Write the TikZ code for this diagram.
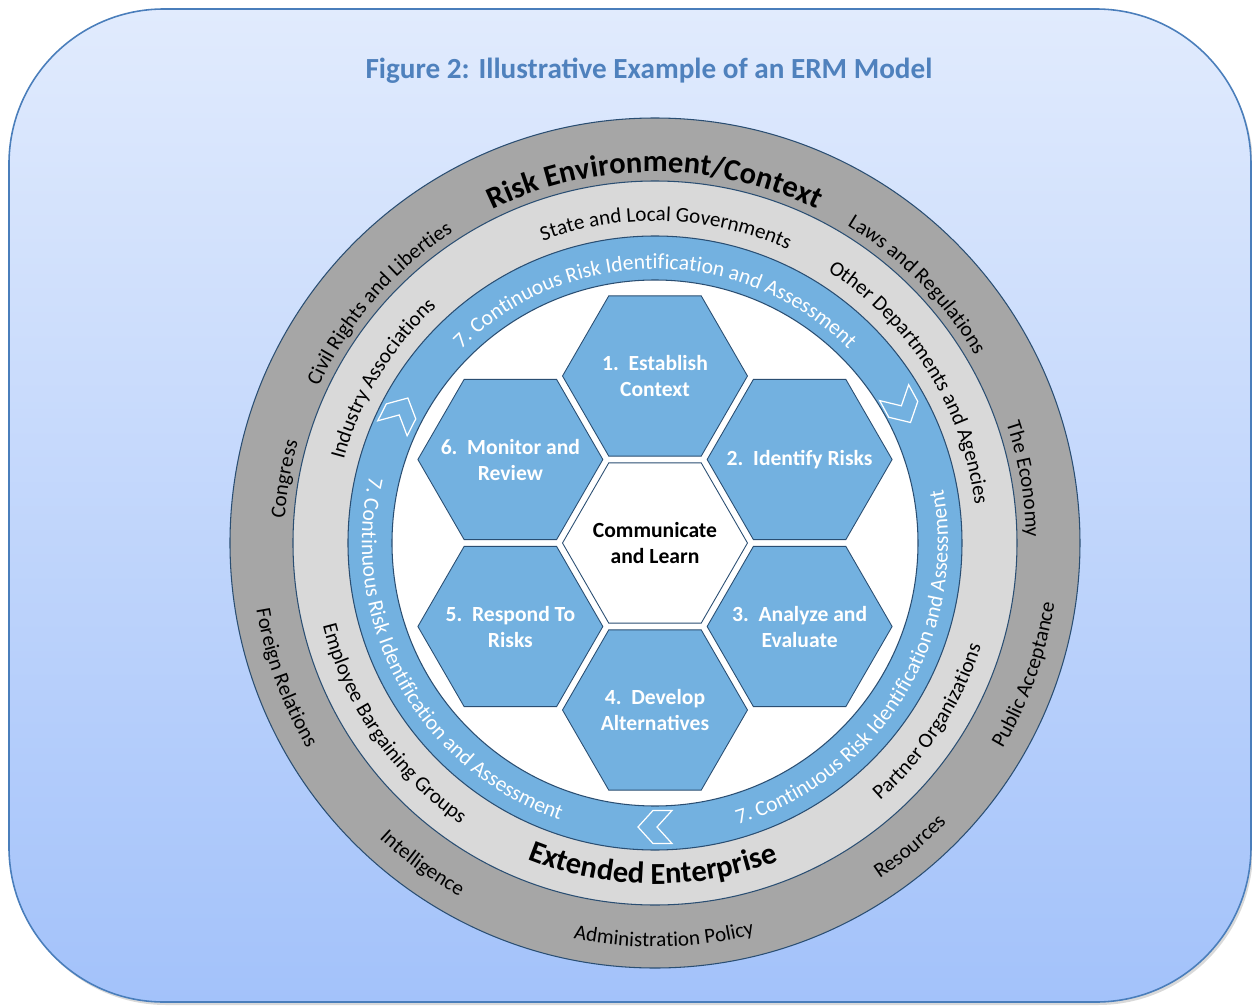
\documentclass[tikz,border=0pt]{standalone}
\usepackage{fontspec}
\setmainfont{Carlito}
\usetikzlibrary{shapes.geometric,decorations.text}

\definecolor{bgtop}{HTML}{E1EBFD}
\definecolor{bgbot}{HTML}{A3C2FA}
\definecolor{frameblue}{HTML}{4A7EBB}
\definecolor{titleblue}{HTML}{4F81BD}
\definecolor{darkring}{HTML}{A6A6A6}
\definecolor{lightring}{HTML}{D9D9D9}
\definecolor{cellblue}{HTML}{73B1E0}
\definecolor{edgeblue}{HTML}{2A4E72}

\newcommand{\bigring}{\fontsize{17.4}{20}\selectfont\bfseries}
\newcommand{\smallring}{\fontsize{12}{14}\selectfont}
\newcommand{\loopring}{\fontsize{12.3}{14}\selectfont\color{white}}

\newcommand{\ringtop}[4]{\path[decorate,decoration={text along path,text align=center,text={#4}}]
  ({#1+#3}:#2) arc[start angle={#1+#3},end angle={#1-#3},radius=#2];}
\newcommand{\ringbottom}[4]{\path[decorate,decoration={text along path,text align=center,text={#4}}]
  ({#1-#3}:#2) arc[start angle={#1-#3},end angle={#1+#3},radius=#2];}

\tikzset{
  ringedge/.style={draw=edgeblue,line width=0.6pt},
  hexcell/.style={regular polygon,regular polygon sides=6,minimum size=3.7cm,inner sep=0pt,
    fill=cellblue,draw=edgeblue,line width=0.5pt},
  hextext/.style={align=center,text=white,font=\fontsize{12.3}{14.8}\selectfont\bfseries},
  chev/.pic={\draw[white,line width=0.7pt] (-17,16.5)--(2,16.5)--(17,0)--(2,-16.5)--(-17,-16.5)--(-2,0)--cycle;}
}

\begin{document}
\begin{tikzpicture}[x=0.02cm,y=0.02cm]
\useasboundingbox (-655,-462) rectangle (597,543);
\fill[black,opacity=0.15,rounded corners=3.1cm] (-644,-462) rectangle (598,531);
\path[draw=frameblue,line width=0.9pt,top color=bgtop,bottom color=bgbot,rounded corners=3.1cm]
  (-646,-459) rectangle (596,534);
\node[text=titleblue,font=\fontsize{16.6}{19}\selectfont\bfseries] (title) at (-6,472)
  {Figure 2: Illustrative Example of an ERM Model};

\draw[ringedge,fill=darkring] (0,0) circle[radius=425];
\draw[ringedge,fill=lightring] (0,0) circle[radius=362];
\draw[ringedge,fill=cellblue] (0,0) circle[radius=307];
\draw[ringedge,fill=white] (0,0) circle[radius=263];

\ringtop{90}{371}{45}{|\bigring|Risk Environment/Context}
\ringtop{44.6}{371}{40}{|\smallring|Laws and Regulations}
\ringtop{9.8}{371}{40}{|\smallring|The Economy}
\ringtop{170.2}{371}{40}{|\smallring|Congress}
\ringtop{139}{371}{40}{|\smallring|Civil Rights and Liberties}
\ringbottom{-160}{404}{40}{|\smallring|Foreign Relations}
\ringbottom{-126}{404}{40}{|\smallring|Intelligence}
\ringbottom{-88.7}{404}{40}{|\smallring|Administration Policy}
\ringbottom{-50}{404}{40}{|\smallring|Resources}
\ringbottom{-19.6}{404}{40}{|\smallring|Public Acceptance}

\ringtop{88}{322}{45}{|\smallring|State and Local Governments}
\ringtop{32.2}{322}{45}{|\smallring|Other Departments and Agencies}
\ringtop{148.9}{322}{45}{|\smallring|Industry Associations}
\ringbottom{-145.4}{342}{45}{|\smallring|Employee Bargaining Groups}
\ringbottom{-90.4}{341}{45}{|\bigring|Extended Enterprise}
\ringbottom{-33.2}{342}{45}{|\smallring|Partner Organizations}

\ringtop{90}{274}{60}{|\loopring|7. Continuous Risk Identification and Assessment}
\ringbottom{-151}{293}{60}{|\loopring|7. Continuous Risk Identification and Assessment}
\ringbottom{-31.5}{293}{60}{|\loopring|7. Continuous Risk Identification and Assessment}

\pic[rotate=63] at (153:286) {chev};
\pic[rotate=-61.3] at (28.7:282) {chev};
\pic[rotate=180] at (-90:284) {chev};

\node[hexcell,fill=white] (hc) at (0,0) {};
\node[hexcell] (h1) at (90:167) {};
\node[hexcell] (h2) at (30:167) {};
\node[hexcell] (h3) at (-30:167) {};
\node[hexcell] (h4) at (-90:167) {};
\node[hexcell] (h5) at (-150:167) {};
\node[hexcell] (h6) at (150:167) {};

\node[hextext,text=black] (tc) at (hc) {Communicate\\and Learn};
\node[hextext] (t1) at (h1) {1.\ \ Establish\\Context};
\node[hextext] (t2) at (h2) {2.\ \ Identify Risks};
\node[hextext] (t3) at (h3) {3.\ \ Analyze and\\Evaluate};
\node[hextext] (t4) at (h4) {4.\ \ Develop\\Alternatives};
\node[hextext] (t5) at (h5) {5.\ \ Respond To\\Risks};
\node[hextext] (t6) at (h6) {6.\ \ Monitor and\\Review};
\end{tikzpicture}
\end{document}
